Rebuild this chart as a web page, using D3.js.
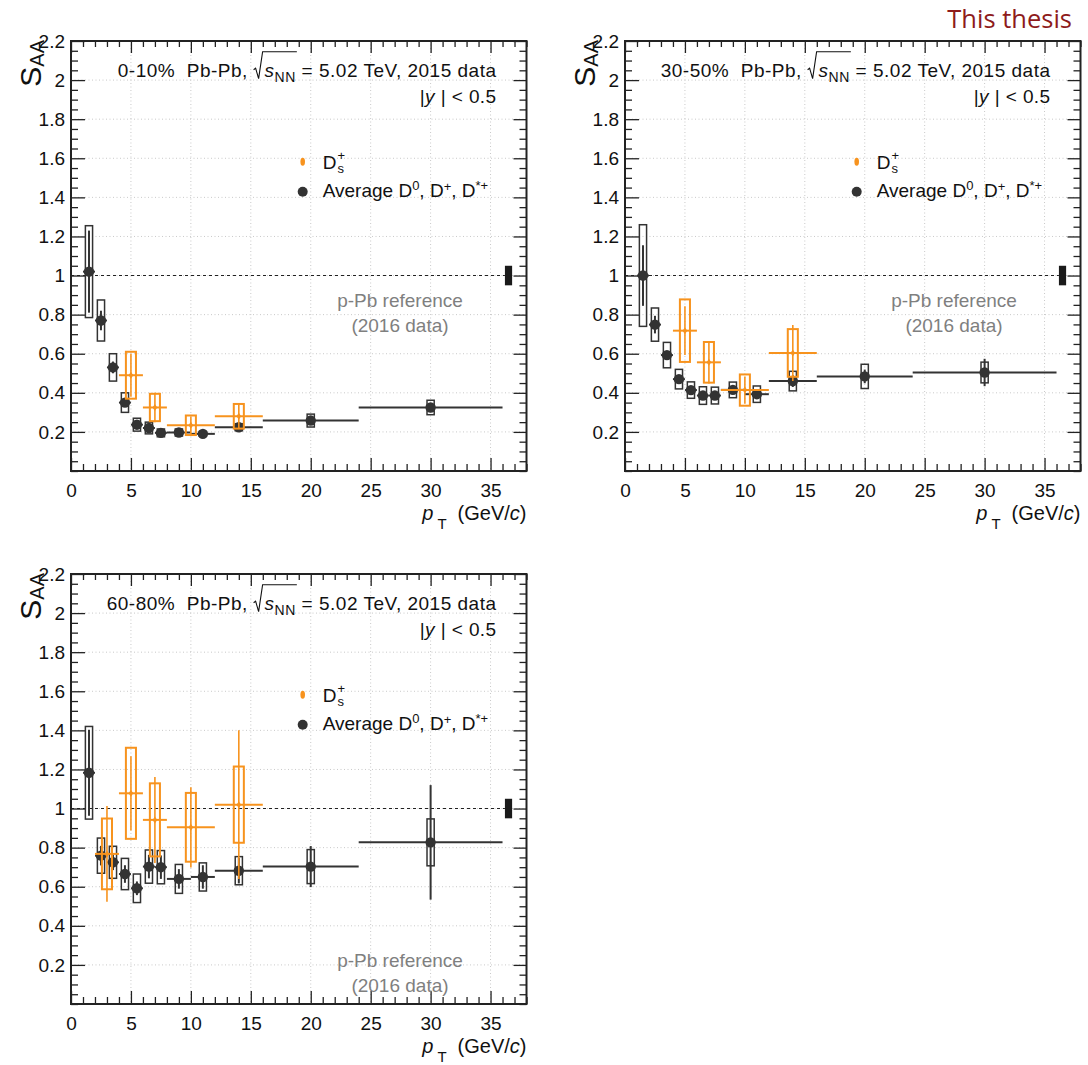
<!DOCTYPE html>
<html><head><meta charset="utf-8">
<script src="https://cdn.jsdelivr.net/npm/d3@7"></script>
<style>
body{margin:0;background:#fff}
text{font-family:"Liberation Sans",Arial,Helvetica,sans-serif;fill:#111}
</style>
</head><body>
<svg id="chart" width="1088" height="1065"></svg>
<script>
// ---------------- DATA ----------------
const centralities = ["0-10%", "30-50%", "60-80%"];
// Average D0, D+, D*+  bins
const ptD   = [1.5, 2.5, 3.5, 4.5, 5.5, 6.5, 7.5, 9, 11, 14, 20, 30];
const ptDLo = [1, 2, 3, 4, 5, 6, 7, 8, 10, 12, 16, 24];
const ptDHi = [2, 3, 4, 5, 6, 7, 8, 10, 12, 16, 24, 36];
// Ds bins
const ptDs     = [5, 7, 10, 14];
const ptDsLo   = [4, 6, 8, 12];
const ptDsHi   = [6, 8, 12, 16];
const ptDs6080   = [3, 5, 7, 10, 14];
const ptDs6080Lo = [2, 4, 6, 8, 12];
const ptDs6080Hi = [4, 6, 8, 12, 16];

// 0-10%
const saaD_010     = [1.02, 0.77, 0.53, 0.35, 0.237, 0.22, 0.195, 0.197, 0.19, 0.224, 0.258, 0.325];
const statD_010    = [0.21, 0.05, 0.03, 0.02, 0.012, 0.012, 0.01, 0.01, 0.01, 0.01, 0.012, 0.02];
const sysD_010     = [0.235, 0.105, 0.07, 0.05, 0.033, 0.03, 0.02, 0.018, 0.012, 0.018, 0.033, 0.037];
const saaDs_010    = [0.49, 0.325, 0.234, 0.28];
const statDs_010   = [0.11, 0.075, 0.045, 0.065];
const sysDs_010    = [0.12, 0.07, 0.05, 0.063];
// 30-50%
const saaD_3050    = [1.0, 0.749, 0.593, 0.47, 0.414, 0.386, 0.386, 0.415, 0.393, 0.46, 0.484, 0.504];
const statD_3050   = [0.155, 0.045, 0.02, 0.02, 0.015, 0.015, 0.015, 0.015, 0.015, 0.03, 0.035, 0.07];
const sysD_3050    = [0.26, 0.085, 0.065, 0.05, 0.042, 0.045, 0.043, 0.04, 0.042, 0.05, 0.062, 0.053];
const saaDs_3050   = [0.718, 0.556, 0.414, 0.604];
const statDs_3050  = [0.125, 0.108, 0.07, 0.143];
const sysDs_3050   = [0.16, 0.104, 0.08, 0.122];
// 60-80%
const saaD_6080    = [1.183, 0.759, 0.725, 0.665, 0.592, 0.703, 0.70, 0.64, 0.65, 0.682, 0.703, 0.827];
const statD_6080   = [0.22, 0.05, 0.04, 0.045, 0.035, 0.06, 0.06, 0.05, 0.06, 0.065, 0.105, 0.293];
const sysD_6080    = [0.237, 0.09, 0.082, 0.08, 0.073, 0.085, 0.085, 0.074, 0.072, 0.072, 0.087, 0.12];
const saaDs_6080   = [0.768, 1.078, 0.942, 0.904, 1.02];
const statDs_6080  = [0.245, 0.19, 0.22, 0.205, 0.38];
const sysDs_6080   = [0.181, 0.233, 0.187, 0.176, 0.195];

// normalisation uncertainty (p-Pb reference) around unity
const normUnc = 0.05;
const normX = [36.2, 36.8];

const xTicksMajor = [0, 5, 10, 15, 20, 25, 30, 35];
const yTicksMajor = [0.2, 0.4, 0.6, 0.8, 1, 1.2, 1.4, 1.6, 1.8, 2, 2.2];
const xDomain = [0, 38];
const yDomain = [0, 2.2];

// ---------------- LAYOUT ----------------
const svg = d3.select("#chart");
const W = 455.5, H = 430;
const panels = [
  {left: 71,  top: 41,  cent: centralities[0],
   D: {x: ptD, lo: ptDLo, hi: ptDHi, v: saaD_010, st: statD_010, sy: sysD_010},
   Ds: {x: ptDs, lo: ptDsLo, hi: ptDsHi, v: saaDs_010, st: statDs_010, sy: sysDs_010},
   refY: [265.7, 290.7]},
  {left: 625, top: 41,  cent: centralities[1],
   D: {x: ptD, lo: ptDLo, hi: ptDHi, v: saaD_3050, st: statD_3050, sy: sysD_3050},
   Ds: {x: ptDs, lo: ptDsLo, hi: ptDsHi, v: saaDs_3050, st: statDs_3050, sy: sysDs_3050},
   refY: [265.7, 290.7]},
  {left: 71,  top: 574, cent: centralities[2],
   D: {x: ptD, lo: ptDLo, hi: ptDHi, v: saaD_6080, st: statD_6080, sy: sysD_6080},
   Ds: {x: ptDs6080, lo: ptDs6080Lo, hi: ptDs6080Hi, v: saaDs_6080, st: statDs_6080, sy: sysDs_6080},
   refY: [392.7, 417.7]}
];

const cBlack = "#333333";
const cOrange = "#f7931e";

// Top-right label
svg.append("text").attr("x", 1072).attr("y", 28).attr("text-anchor", "end")
  .style("font-family", "'Open Sans', sans-serif").style("font-size", "25.5px")
  .style("fill", "#8e1b1b").text("This thesis");

function minorVals(domain, step, majors) {
  const out = [];
  for (let v = domain[0]; v <= domain[1] + 1e-9; v += step) {
    const r = Math.round(v * 1000) / 1000;
    if (!majors.some(m => Math.abs(m - r) < 1e-6)) out.push(r);
  }
  return out;
}

panels.forEach(p => {
  const g = svg.append("g").attr("transform", `translate(${p.left},${p.top})`);
  const x = d3.scaleLinear().domain(xDomain).range([0, W]);
  const y = d3.scaleLinear().domain(yDomain).range([H, 0]);

  // grid
  const grid = g.append("g").attr("stroke", "#c9c9c9").attr("stroke-width", 1).attr("stroke-dasharray", "1,2.5");
  xTicksMajor.filter(d => d > 0).forEach(d => grid.append("line").attr("x1", x(d)).attr("x2", x(d)).attr("y1", 0).attr("y2", H));
  yTicksMajor.filter(d => d < 2.2).forEach(d => grid.append("line").attr("y1", y(d)).attr("y2", y(d)).attr("x1", 0).attr("x2", W));

  // reference line at unity
  g.append("line").attr("x1", x(0)).attr("x2", x(normX[0])).attr("y1", y(1)).attr("y2", y(1))
    .attr("stroke", "#222").attr("stroke-width", 1.1).attr("stroke-dasharray", "3,3");
  g.append("rect").attr("x", x(normX[0])).attr("width", x(normX[1]) - x(normX[0]))
    .attr("y", y(1 + normUnc)).attr("height", y(1 - normUnc) - y(1 + normUnc)).attr("fill", "#1a1a1a");

  // axes
  const xMinor = minorVals(xDomain, 1, xTicksMajor);
  const yMinor = minorVals([0, 2.2], 0.05, yTicksMajor);
  const styleAxis = sel => { sel.select(".domain").remove(); sel.selectAll(".tick line").attr("stroke", "#222").attr("stroke-width", 1.3); };
  const styleLbl = s => s.selectAll("text").style("font-size", "19px").attr("fill", "#111").style("font-family", "'Liberation Sans',Arial,sans-serif");

  g.append("g").attr("transform", `translate(0,${H})`)
    .call(d3.axisBottom(x).tickValues(xTicksMajor).tickSize(-13).tickPadding(12.5).tickFormat(d3.format("d")))
    .call(styleAxis).call(styleLbl);
  g.append("g").attr("transform", `translate(0,${H})`)
    .call(d3.axisBottom(x).tickValues(xMinor).tickSize(-7).tickFormat(""))
    .call(styleAxis);
  g.append("g").call(d3.axisTop(x).tickValues(xTicksMajor).tickSize(-12).tickFormat("")).call(styleAxis);
  g.append("g").call(d3.axisTop(x).tickValues(xMinor).tickSize(-6).tickFormat("")).call(styleAxis);

  g.append("g")
    .call(d3.axisLeft(y).tickValues(yTicksMajor).tickSize(-14).tickPadding(6).tickFormat(d => String(+d.toFixed(1))))
    .call(styleAxis).call(styleLbl);
  g.append("g").call(d3.axisLeft(y).tickValues(yMinor).tickSize(-7).tickFormat("")).call(styleAxis);
  g.append("g").attr("transform", `translate(${W},0)`)
    .call(d3.axisRight(y).tickValues(yTicksMajor).tickSize(-13).tickFormat("")).call(styleAxis);
  g.append("g").attr("transform", `translate(${W},0)`)
    .call(d3.axisRight(y).tickValues(yMinor).tickSize(-7).tickFormat("")).call(styleAxis);

  // frame
  g.append("rect").attr("x", 0).attr("y", 0).attr("width", W).attr("height", H)
    .attr("fill", "none").attr("stroke", "#222").attr("stroke-width", 2);

  // y title S_AA
  const yt = svg.append("text").attr("transform", `translate(${p.left - 30},${p.top - 1}) rotate(-90)`)
    .attr("text-anchor", "end").style("font-size", "30px");
  yt.append("tspan").text("S");
  yt.append("tspan").attr("dy", 3).style("font-size", "20px").text("AA");

  // x title
  const xt = g.append("text").attr("x", W).attr("y", H + 49).attr("text-anchor", "end").style("font-size", "20px").style("white-space", "pre");
  xt.append("tspan").style("font-style", "italic").text("p");
  xt.append("tspan").attr("dx", 4).attr("dy", 9).style("font-size", "15px").text("T");
  xt.append("tspan").attr("dx", 11).attr("dy", -9).text("(GeV/");
  xt.append("tspan").style("font-style", "italic").text("c");
  xt.append("tspan").text(")");

  // header text
  const hx = W - 30, hy = 35.7;
  const prefix = p.cent + "  Pb-Pb, ";
  const ht = g.append("text").attr("x", hx).attr("y", hy).attr("text-anchor", "end")
    .style("font-size", "19px").style("letter-spacing", "0.5px").style("white-space", "pre");
  ht.append("tspan").text(prefix);
  ht.append("tspan").attr("dx", 11).style("font-style", "italic").text("s");
  ht.append("tspan").attr("dy", 5).style("font-size", "14px").text("NN");
  ht.append("tspan").attr("dy", -5).text(" = 5.02 TeV, 2015 data");
  const hn = ht.node();
  const sx = hn.getStartPositionOfChar(prefix.length).x;
  const nnEnd = hn.getEndPositionOfChar(prefix.length + 2).x;
  g.append("path").attr("fill", "none").attr("stroke", "#111").attr("stroke-width", 1.1)
    .attr("d", `M${sx - 11},${hy - 7} L${sx - 9},${hy - 8.5} L${sx - 6},${hy + 2} L${sx - 2},${hy - 25} L${nnEnd + 1},${hy - 25}`);

  const rt = g.append("text").attr("x", hx).attr("y", hy + 26.5).attr("text-anchor", "end")
    .style("font-size", "19px").style("letter-spacing", "0.4px").style("white-space", "pre");
  rt.append("tspan").text("|");
  rt.append("tspan").style("font-style", "italic").text("y");
  rt.append("tspan").text(" | < 0.5");

  // legend
  const lx = 231.7;
  g.append("ellipse").attr("cx", lx).attr("cy", 120.7).attr("rx", 2.3).attr("ry", 4).attr("fill", cOrange);
  g.append("circle").attr("cx", lx).attr("cy", 150.7).attr("r", 5).attr("fill", cBlack);
  const l1 = g.append("text").attr("x", lx + 20).attr("y", 128).style("font-size", "19px").text("D");
  const dw = l1.node().getComputedTextLength();
  g.append("text").attr("x", lx + 21 + dw).attr("y", 119).style("font-size", "13px").text("+");
  g.append("text").attr("x", lx + 21 + dw).attr("y", 132).style("font-size", "13px").text("s");
  const l2 = g.append("text").attr("x", lx + 20).attr("y", 156).style("font-size", "19px").style("white-space", "pre");
  l2.append("tspan").text("Average D");
  l2.append("tspan").attr("dy", -7).style("font-size", "13px").text("0");
  l2.append("tspan").attr("dy", 7).text(", D");
  l2.append("tspan").attr("dy", -6).style("font-size", "13px").text("+");
  l2.append("tspan").attr("dy", 6).text(", D");
  l2.append("tspan").attr("dy", -7).style("font-size", "13px").text("*+");

  // reference note
  g.append("text").attr("x", 329).attr("y", p.refY[0]).attr("text-anchor", "middle").style("font-size", "19px").style("fill", "#7f7f7f").text("p-Pb reference");
  g.append("text").attr("x", 329).attr("y", p.refY[1]).attr("text-anchor", "middle").style("font-size", "19px").style("fill", "#7f7f7f").text("(2016 data)");

  // ---- Average D data
  const dD = p.D.x.map((xx, i) => ({x: xx, lo: p.D.lo[i], hi: p.D.hi[i], v: p.D.v[i], st: p.D.st[i], sy: p.D.sy[i]}));
  const gD = g.append("g");
  gD.selectAll("rect.sys").data(dD).join("rect").attr("class", "sys")
    .attr("x", d => x(d.x - 0.3)).attr("width", d => x(d.x + 0.3) - x(d.x - 0.3))
    .attr("y", d => y(d.v + d.sy)).attr("height", d => y(d.v - d.sy) - y(d.v + d.sy))
    .attr("fill", "none").attr("stroke", cBlack).attr("stroke-width", 1.5);
  gD.selectAll("line.st").data(dD).join("line").attr("class", "st")
    .attr("x1", d => x(d.x)).attr("x2", d => x(d.x)).attr("y1", d => y(d.v - d.st)).attr("y2", d => y(d.v + d.st))
    .attr("stroke", cBlack).attr("stroke-width", 2);
  gD.selectAll("line.hb").data(dD).join("line").attr("class", "hb")
    .attr("x1", d => x(d.lo)).attr("x2", d => x(d.hi)).attr("y1", d => y(d.v)).attr("y2", d => y(d.v))
    .attr("stroke", cBlack).attr("stroke-width", 2);
  gD.selectAll("circle").data(dD).join("circle")
    .attr("cx", d => x(d.x)).attr("cy", d => y(d.v)).attr("r", 5.2).attr("fill", cBlack);

  // ---- Ds data
  const dS = p.Ds.x.map((xx, i) => ({x: xx, lo: p.Ds.lo[i], hi: p.Ds.hi[i], v: p.Ds.v[i], st: p.Ds.st[i], sy: p.Ds.sy[i]}));
  const gS = g.append("g");
  gS.selectAll("rect.sys").data(dS).join("rect").attr("class", "sys")
    .attr("x", d => x(d.x - 0.42)).attr("width", d => x(d.x + 0.42) - x(d.x - 0.42))
    .attr("y", d => y(d.v + d.sy)).attr("height", d => y(d.v - d.sy) - y(d.v + d.sy))
    .attr("fill", "none").attr("stroke", cOrange).attr("stroke-width", 2);
  gS.selectAll("line.st").data(dS).join("line").attr("class", "st")
    .attr("x1", d => x(d.x)).attr("x2", d => x(d.x)).attr("y1", d => y(d.v - d.st)).attr("y2", d => y(d.v + d.st))
    .attr("stroke", cOrange).attr("stroke-width", 1.6);
  gS.selectAll("line.hb").data(dS).join("line").attr("class", "hb")
    .attr("x1", d => x(d.lo)).attr("x2", d => x(d.hi)).attr("y1", d => y(d.v)).attr("y2", d => y(d.v))
    .attr("stroke", cOrange).attr("stroke-width", 2);
  gS.selectAll("path.mk").data(dS).join("path").attr("class", "mk")
    .attr("d", d => { const cx = x(d.x), cy = y(d.v); return `M${cx},${cy - 3.5} L${cx + 2.3},${cy} L${cx},${cy + 3.5} L${cx - 2.3},${cy} Z`; })
    .attr("fill", cOrange);
});
</script>
</body></html>
